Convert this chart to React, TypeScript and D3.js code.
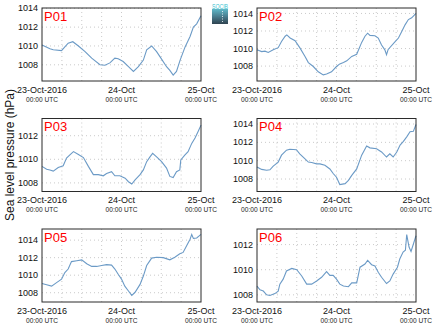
import React from "react";
import * as d3 from "d3";

const W = 435;
const H = 327;

const panelNames = ["P01", "P02", "P03", "P04", "P05", "P06"];

// [hour since 23-Oct-2016 00:00 UTC, hPa]
const p01: [number, number][] = [
  [0, 1010.1], [2.4, 1009.7], [3.4, 1009.6], [5.9, 1009.5], [6.9, 1009.9], [7.9, 1010.3],
  [9.3, 1010.45], [11.0, 1010.0], [13.0, 1009.4], [15.0, 1008.7], [17.5, 1008.0], [19.0, 1007.95],
  [20.5, 1008.2], [22.0, 1008.7], [23.0, 1008.65], [24.5, 1008.35], [26.1, 1007.8], [27.6, 1007.3],
  [29.1, 1007.8], [30.6, 1008.5], [31.6, 1009.6], [33.1, 1010.0], [34.6, 1009.4], [36.1, 1008.6],
  [37.6, 1007.8], [38.6, 1007.4], [39.6, 1006.9], [40.6, 1007.3], [41.7, 1008.5], [43.2, 1009.9],
  [44.7, 1011.0], [45.7, 1012.0], [46.7, 1012.35], [48, 1013.2],
];
const p02: [number, number][] = [
  [0, 1009.85], [1.4, 1009.65], [2.4, 1009.7], [3.4, 1009.55], [4.9, 1009.85], [6.4, 1010.1],
  [7.4, 1010.8], [8.5, 1011.4], [9.0, 1011.55], [10.0, 1011.2], [11.5, 1010.9], [13.0, 1010.05],
  [14.5, 1009.1], [15.5, 1008.4], [17.0, 1007.95], [18.5, 1007.35], [20.0, 1007.0], [21.0, 1007.1],
  [22.5, 1007.35], [24.0, 1007.95], [25.0, 1008.25], [26.1, 1008.4], [27.1, 1008.6], [28.6, 1009.1],
  [30.1, 1009.35], [31.6, 1010.7], [32.6, 1011.4], [33.4, 1011.75], [34.1, 1011.5], [35.6, 1011.45],
  [36.6, 1011.2], [37.6, 1010.4], [38.6, 1009.85], [39.1, 1009.3], [39.6, 1009.9], [41.7, 1010.8],
  [42.7, 1011.2], [43.7, 1011.95], [44.7, 1012.7], [45.7, 1013.3], [46.7, 1013.5], [48, 1014.0],
];
const p03: [number, number][] = [
  [0, 1009.4], [1.4, 1009.15], [2.4, 1009.1], [3.4, 1009.0], [4.9, 1009.3], [6.4, 1009.45],
  [7.4, 1010.1], [8.5, 1010.4], [9.5, 1010.65], [11.0, 1010.4], [12.5, 1010.15], [14.0, 1009.4],
  [15.5, 1008.7], [17.0, 1008.7], [18.5, 1008.6], [19.5, 1008.8], [21.0, 1008.95], [22.0, 1008.6],
  [23.5, 1008.6], [25.1, 1008.4], [26.1, 1008.1], [27.1, 1007.9], [28.1, 1008.25], [29.6, 1008.7],
  [30.6, 1009.1], [31.6, 1009.8], [32.6, 1010.2], [33.4, 1010.5], [34.6, 1010.2], [36.1, 1009.8],
  [37.6, 1009.25], [38.6, 1008.55], [39.6, 1008.45], [40.6, 1008.95], [41.6, 1009.1], [41.9, 1009.95],
  [43.1, 1010.35], [44.1, 1010.65], [45.2, 1011.35], [46.2, 1011.8], [47.2, 1012.4], [48, 1012.9],
];
const p04: [number, number][] = [
  [0, 1009.3], [1.4, 1009.05], [2.9, 1008.95], [3.9, 1009.0], [4.9, 1009.4], [6.4, 1009.85],
  [7.4, 1010.6], [8.9, 1011.15], [9.9, 1011.25], [11.9, 1011.2], [12.9, 1010.75], [14.5, 1010.2],
  [15.5, 1009.85], [16.5, 1009.8], [18.0, 1009.65], [19.0, 1009.65], [20.5, 1009.5], [22.0, 1009.1],
  [23.0, 1008.6], [24.0, 1008.2], [25.0, 1007.4], [26.6, 1007.5], [27.6, 1007.85], [28.6, 1008.4],
  [30.1, 1009.1], [31.6, 1010.6], [33.1, 1011.6], [34.1, 1011.4], [36.1, 1011.3], [37.6, 1010.95],
  [39.1, 1010.4], [40.1, 1010.75], [41.1, 1010.4], [42.2, 1010.95], [43.2, 1011.7], [44.2, 1012.1],
  [45.2, 1012.6], [46.2, 1013.15], [47.2, 1013.2], [48, 1013.95],
];
const p05: [number, number][] = [
  [0, 1009.05], [1.4, 1008.9], [2.9, 1008.75], [4.4, 1009.15], [5.9, 1009.55], [6.9, 1010.3],
  [7.9, 1010.7], [8.9, 1011.55], [10.5, 1011.65], [12.0, 1011.75], [13.5, 1011.3], [15.0, 1011.0],
  [16.5, 1011.0], [18.0, 1011.1], [19.5, 1011.2], [21.0, 1011.15], [22.0, 1010.7], [23.0, 1010.1],
  [24.0, 1009.55], [25.0, 1008.75], [26.1, 1008.2], [27.1, 1007.7], [28.1, 1008.05], [29.6, 1008.95],
  [30.6, 1009.9], [31.6, 1011.1], [33.1, 1011.95], [34.6, 1012.05], [36.6, 1012.0], [38.6, 1011.75],
  [40.1, 1012.05], [41.6, 1012.45], [42.6, 1012.6], [43.7, 1013.4], [44.7, 1014.1], [45.2, 1014.65],
  [45.7, 1014.2], [46.7, 1014.25], [48, 1014.65],
];
const p06: [number, number][] = [
  [0, 1008.7], [0.9, 1008.4], [1.9, 1008.3], [2.9, 1008.0], [3.9, 1007.95], [5.4, 1008.1],
  [6.4, 1008.3], [6.9, 1008.85], [7.9, 1009.25], [8.9, 1009.9], [10.5, 1010.1], [12.0, 1010.0],
  [13.5, 1009.5], [15.0, 1008.85], [16.5, 1008.85], [18.0, 1009.1], [19.5, 1009.4], [21.0, 1009.85],
  [22.0, 1009.55], [23.0, 1009.55], [24.0, 1009.25], [25.0, 1008.85], [26.1, 1008.7], [27.6, 1008.65],
  [28.6, 1008.95], [30.1, 1008.95], [31.1, 1010.2], [32.6, 1010.45], [33.4, 1010.75], [34.6, 1010.4],
  [35.6, 1010.3], [36.6, 1009.8], [37.6, 1009.4], [39.1, 1008.9], [40.1, 1009.1], [41.1, 1009.65],
  [42.4, 1010.2], [43.1, 1010.85], [44.1, 1011.4], [44.8, 1011.55], [45.2, 1012.8], [45.9, 1011.8],
  [46.5, 1011.45], [48, 1012.7],
];
const panelData = [p01, p02, p03, p04, p05, p06];

// y-axis domains [min, max] in hPa
const yDomains: [number, number][] = [
  [1006.28, 1014.03],
  [1006.3, 1014.62],
  [1007.27, 1013.46],
  [1006.64, 1014.6],
  [1006.94, 1015.27],
  [1007.43, 1013.24],
];

const xTickHours = [0, 24, 48];
const xTickLabels = ["23-Oct-2016", "24-Oct", "25-Oct"];
const xTickSub = "00:00 UTC";
const yLabel = "Sea level pressure (hPa)";
const logoText = "SOCIB";

const t0 = Date.UTC(2016, 9, 23);
const toDate = (h: number) => new Date(t0 + h * 3600e3);

const colX = [42, 257];
const rowY = [8, 118.5, 229];
const PW = 159;
const PH = 73;
const FONT = "'Liberation Sans', Arial, Helvetica, sans-serif";

function Panel({ idx }: { idx: number }) {
  const x0 = colX[idx % 2];
  const y0 = rowY[Math.floor(idx / 2)];
  const x = d3.scaleUtc().domain([toDate(0), toDate(48)]).range([0, PW]);
  const y = d3.scaleLinear().domain(yDomains[idx]).range([PH, 0]);
  const [lo, hi] = yDomains[idx];
  const yTicks = d3.range(Math.ceil(lo / 2) * 2, hi + 1e-9, 2);
  const gridHours = d3.range(6, 48, 6);
  const line = d3
    .line<[number, number]>()
    .x((d) => x(toDate(d[0])))
    .y((d) => y(d[1]));
  return (
    <g transform={`translate(${x0},${y0})`}>
      <rect x={0} y={0} width={PW} height={PH} fill="#fff" />
      {gridHours.map((h) => (
        <line key={"gx" + h} x1={x(toDate(h))} x2={x(toDate(h))} y1={0} y2={PH}
          stroke="#bdbdbd" strokeWidth={0.8} strokeDasharray="1,3" />
      ))}
      {yTicks.map((v) => (
        <line key={"gy" + v} x1={0} x2={PW} y1={y(v)} y2={y(v)}
          stroke="#bdbdbd" strokeWidth={0.8} strokeDasharray="1,3" />
      ))}
      <path d={line(panelData[idx]) || ""} fill="none" stroke="#6b9ac6" strokeWidth={1.1} />
      <rect x={0} y={0} width={PW} height={PH} fill="none" stroke="#2b2b2b" strokeWidth={1} />
      {yTicks.map((v) => (
        <text key={"ty" + v} x={-4} y={y(v)} dy="0.35em" textAnchor="end"
          fontFamily={FONT} fontSize={9} fill="#111">{v}</text>
      ))}
      {xTickHours.map((h, i) => (
        <g key={"tx" + h} transform={`translate(${x(toDate(h))},0)`}>
          <text y={PH + 11.5} textAnchor="middle" fontFamily={FONT} fontSize={9} fill="#111">
            {xTickLabels[i]}
          </text>
          <text y={PH + 20.5} textAnchor="middle" fontFamily={FONT} fontSize={6.6} fill="#222">
            {xTickSub}
          </text>
        </g>
      ))}
      <text x={2} y={12.5} fontFamily={FONT} fontSize={13} fill="#ff0000">{panelNames[idx]}</text>
    </g>
  );
}

export default function App() {
  return (
    <svg width={W} height={H} style={{ position: "absolute", left: 0, top: 0, background: "#fff" }}>
      <rect width={W} height={H} fill="#fff" />
      {panelNames.map((_, i) => (
        <Panel key={i} idx={i} />
      ))}
      <text transform={`translate(14,155) rotate(-90)`} textAnchor="middle"
        fontFamily={FONT} fontSize={12} fill="#111">{yLabel}</text>
      <defs>
        <linearGradient id="logoGrad" x1="0" y1="0" x2="0" y2="1">
          <stop offset="0" stopColor="#5fb8c8" />
          <stop offset="0.5" stopColor="#4a7d8e" />
          <stop offset="1" stopColor="#2f4350" />
        </linearGradient>
      </defs>
      <g>
        <rect x={212} y={9} width={16} height={15} fill="url(#logoGrad)" />
        <line x1={222.5} x2={222.5} y1={11} y2={22} stroke="#fff" strokeWidth={0.8} strokeDasharray="1,1.5" />
        <text x={220} y={8.5} textAnchor="middle" fontFamily={FONT} fontSize={6.5}
          textLength={16} lengthAdjust="spacingAndGlyphs" fill="#3bbfd0">{logoText}</text>
      </g>
    </svg>
  );
}
